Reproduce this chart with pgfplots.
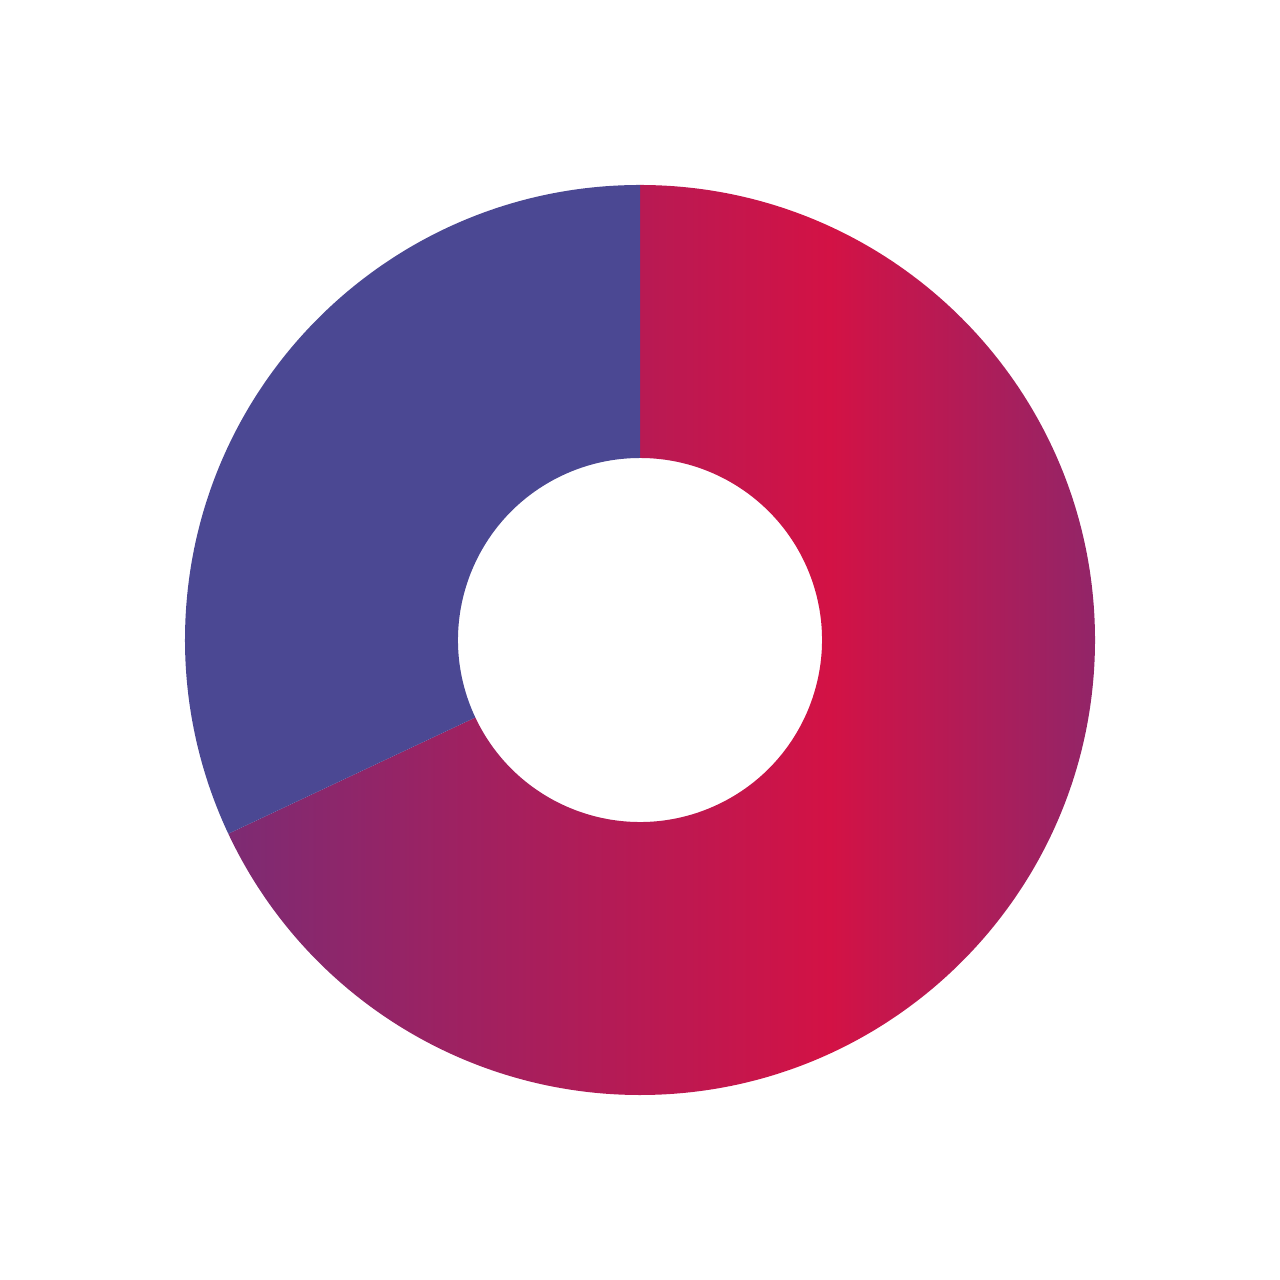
\documentclass[border=0pt]{standalone}
\usepackage{pgfplots}
\usepackage{pgfplotstable}
\pgfplotsset{compat=1.18}

\definecolor{segblue}{HTML}{4B4893}
\definecolor{leftpurple}{HTML}{7D2B73}
\definecolor{midred}{HTML}{D31245}
\definecolor{rightpurple}{HTML}{922568}

% path bbox maps to 25bp..75bp of the shading
\pgfdeclarehorizontalshading{redgrad}{100bp}{%
  color(0bp)=(leftpurple); color(25bp)=(leftpurple);
  color(59.7bp)=(midred);
  color(75bp)=(rightpurple); color(100bp)=(rightpurple)}

\pgfplotstableread{
label value
A 68
B 32
}\piedata

\begin{document}
\begin{tikzpicture}
    \pgfplotstablegetelem{0}{value}\of\piedata
    \pgfmathsetmacro{\va}{\pgfplotsretval}
    \pgfplotstablegetelem{1}{value}\of\piedata
    \pgfmathsetmacro{\vb}{\pgfplotsretval}
    \pgfmathsetmacro{\frac}{\va/(\va+\vb)}
    \pgfmathsetmacro{\splitang}{90-360*\frac}
    \def\Ro{4.265625cm}
    \def\Ri{1.70625cm}
    \begin{axis}
        [
            width=12cm,
            height=12cm,
            scale only axis,
            hide axis,
            xmin=-640,xmax=640,
            ymin=-640,ymax=640,
            clip=false
        ]
        \path (axis cs:-640,-640) rectangle (axis cs:640,640);
        % red segment, clockwise from the top
        \shade[shading=redgrad]
            ([shift={(axis cs:0,0)}]90:\Ro)
            arc[start angle=90, end angle=\splitang, radius=\Ro]
            -- ([shift={(axis cs:0,0)}]\splitang:\Ri)
            arc[start angle=\splitang, end angle=90, radius=\Ri]
            -- cycle;
        % blue segment
        \fill[segblue]
            ([shift={(axis cs:0,0)}]90:\Ro)
            arc[start angle=90, end angle=\splitang+360, radius=\Ro]
            -- ([shift={(axis cs:0,0)}]\splitang:\Ri)
            arc[start angle=\splitang+360, end angle=90, radius=\Ri]
            -- cycle;
    \end{axis}
\end{tikzpicture}
\end{document}
